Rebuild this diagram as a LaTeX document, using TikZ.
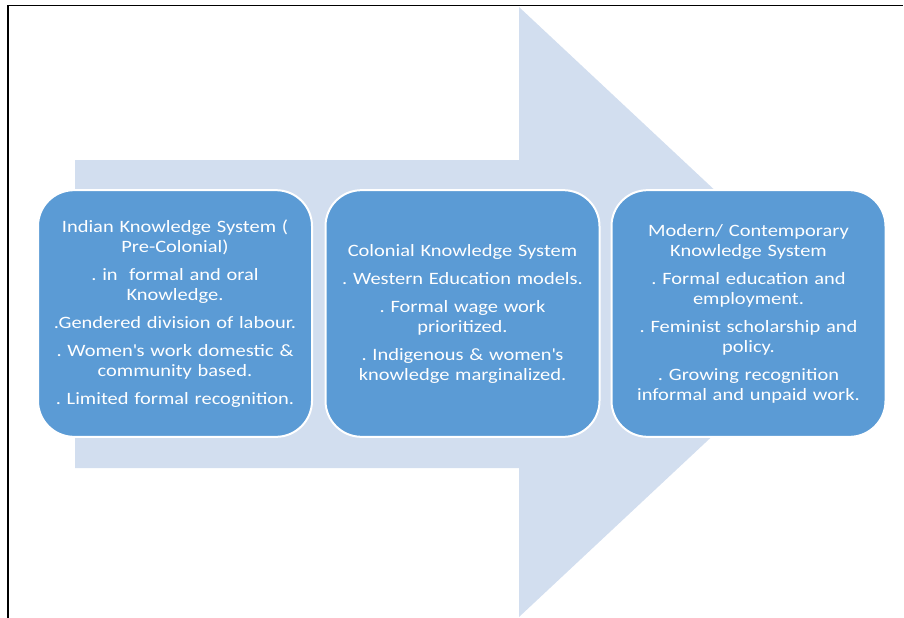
\documentclass[tikz,border=0pt]{standalone}
\usepackage{fontspec}
\setmainfont[FakeStretch=1.18]{Carlito}
\definecolor{arrowfill}{HTML}{D2DEEF}
\definecolor{boxfill}{HTML}{5B9BD5}
\frenchspacing
\begin{document}
\begin{tikzpicture}[x=0.75pt,y=-0.75pt,
  stagebox/.style={draw=white, line width=1.5pt, fill=boxfill, rounded corners=27pt,
    minimum width=205.5pt, minimum height=185pt, inner sep=0pt,
    text width=194pt, align=center, text=white,
    font=\fontsize{13}{15}\selectfont}]
\useasboundingbox (0,0) rectangle (904,618);
% big background arrow
\fill[arrowfill] (75,160) -- (519,160) -- (519,7) -- (845,312) -- (519,617)
  -- (519,468) -- (75,468) -- cycle;
% frame lines
\draw[line width=0.9pt] (8,618) -- (8,5.5) -- (903,5.5);
% stages
\node[stagebox] (b1) at (175,313.5) {Indian Knowledge System (\\ Pre-Colonial)\\[6pt]
  . in\ \ formal and oral\\ Knowledge.\\[6pt]
  .Gendered division of labour.\\[6pt]
  . Women\textquotesingle s work domestic \&\\ community based.\\[6pt]
  . Limited formal recognition.};
\node[stagebox] (b2) at (462.5,313.5) {Colonial Knowledge System\\[6pt]
  . Western Education models.\\[6pt]
  . Formal wage work\\ prioritized.\\[6pt]
  . Indigenous \& women\textquotesingle s\\ knowledge marginalized.};
\node[stagebox] (b3) at (748.5,313.5) {Modern/ Contemporary\\ Knowledge System\\[6pt]
  . Formal education and\\ employment.\\[6pt]
  . Feminist scholarship and\\ policy.\\[6pt]
  . Growing recognition\\ informal and unpaid work.};
\end{tikzpicture}
\end{document}
